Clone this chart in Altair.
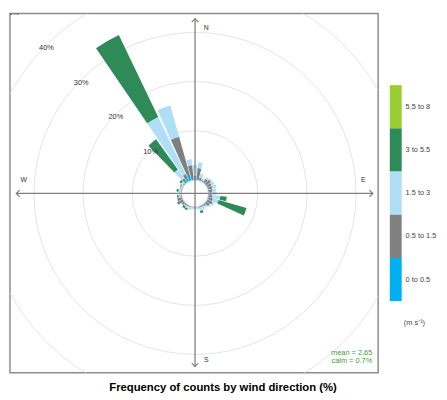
import math
import altair as alt
import pandas as pd

# ---------------- data ----------------
directions = [0, 10, 20, 30, 40, 50, 60, 70, 80, 90, 100, 110, 120, 130, 140, 150, 160, 170,
              180, 190, 200, 210, 220, 230, 240, 250, 260, 270, 280, 290, 300, 310, 320, 330, 340, 350]
speed_bands = ["0 to 0.5", "0.5 to 1.5", "1.5 to 3", "3 to 5.5", "5.5 to 8"]
band_colors = ["#00B0F0", "#808080", "#AEDFF7", "#2E8B57", "#9ACD32"]

# frequency (% of counts) per direction for each wind-speed band
freq_0_05 = [0.2, 0.2, 0.1, 0.1, 0.1, 0.1, 0.1, 0.1, 0.1, 0.1, 0.1, 0.1, 0.1, 0.1, 0.1, 0.1, 0.0, 0.0,
             0.0, 0.0, 0.0, 0.0, 0.0, 0.0, 0.0, 0.0, 0.0, 0.0, 0.0, 0.0, 0.0, 0.0, 0.3, 0.6, 1.2, 0.4]
freq_05_15 = [0.6, 2.2, 0.5, 0.2, 0.8, 1.1, 0.9, 0.8, 0.7, 0.5, 0.7, 0.9, 1.1, 0.8, 0.3, 0.2, 0.2, 0.1,
              0.1, 0.1, 0.1, 0.2, 0.3, 0.6, 1.3, 1.0, 0.2, 0.1, 0.1, 0.1, 0.1, 0.2, 0.7, 1.0, 8.0, 2.6]
freq_15_3 = [2.2, 1.2, 0.8, 0.4, 0.4, 0.3, 0.6, 0.9, 0.7, 1.0, 1.6, 1.2, 0.4, 0.3, 0.4, 0.6, 0.7, 0.4,
             0.3, 0.4, 0.6, 0.4, 0.2, 0.1, 0.1, 0.1, 0.4, 0.2, 0.5, 0.2, 0.3, 0.5, 2.2, 12.9, 6.6, 1.2]
freq_3_55 = [0.0, 0.0, 0.0, 0.0, 0.0, 0.0, 0.0, 0.0, 0.0, 0.0, 1.3, 5.9, 0.0, 0.0, 0.0, 0.0, 0.5, 0.0,
             0.0, 0.0, 0.0, 0.4, 0.4, 0.0, 0.0, 0.0, 0.3, 0.1, 0.4, 0.1, 0.2, 0.4, 7.6, 18.5, 0.0, 0.0]
freq_55_8 = [0.0, 0.0, 0.0, 0.0, 0.0, 0.0, 0.0, 0.0, 0.0, 0.0, 0.0, 0.0, 0.0, 0.0, 0.0, 0.0, 0.0, 0.0,
             0.0, 0.0, 0.0, 0.0, 0.0, 0.0, 0.0, 0.0, 0.0, 0.0, 0.0, 0.0, 0.0, 0.0, 0.0, 0.0, 0.0, 0.0]

ring_pcts = [10, 20, 30, 40, 50]
ring_labels = ["10%", "20%", "30%", "40%", "50%"]
mean_text = "mean = 2.65"
calm_text = "calm = 0.7%"
title_text = "Frequency of counts by wind direction (%)"
unit_text = "(m s\u207b\u00b9)"

# ---------------- layout / style ----------------
FONT = "Liberation Sans"
W, H = 375, 366
CX, CY = 188.5, 183.3
HALF = 4.3  # half wedge width in degrees

series = [freq_0_05, freq_05_15, freq_15_3, freq_3_55, freq_55_8]
rows = []
for i, d in enumerate(directions):
    for b, band in enumerate(speed_bands):
        rows.append({"dir": d, "band": band, "rank": b, "pct": series[b][i]})
rose_df = pd.DataFrame(rows)

theta_scale = alt.Scale(type="linear", domain=[0, 360], range=[0, 2 * math.pi], nice=False, zero=False)
r_scale = alt.Scale(type="linear", domain=[0, 50], range=[14, 264], nice=False, zero=False)

rings_df = pd.DataFrame({"pct": ring_pcts, "label": ring_labels, "ang": [315] * len(ring_pcts)})

circles = alt.Chart(rings_df).mark_arc(
    theta=0, theta2=2 * math.pi, fillOpacity=0, stroke="#DDDDDD", strokeWidth=0.8, clip=True
).encode(
    x=alt.value(CX), y=alt.value(CY),
    radius=alt.Radius("pct:Q", scale=r_scale, stack=False),
)

rose = (
    alt.Chart(rose_df)
    .transform_stack(stack="pct", groupby=["dir"], as_=["r0", "r1"],
                     sort=[alt.SortField("rank", order="ascending")])
    .transform_filter("datum.pct > 0")
    .transform_calculate(t0=f"datum.dir - {HALF}", t1=f"datum.dir + {HALF}")
    .mark_arc(strokeWidth=0)
    .encode(
        x=alt.value(CX), y=alt.value(CY),
        theta=alt.Theta("t0:Q", scale=theta_scale, stack=False),
        theta2="t1:Q",
        radius=alt.Radius("r1:Q", scale=r_scale, stack=False),
        radius2="r0:Q",
        color=alt.Color(
            "band:N",
            scale=alt.Scale(domain=speed_bands[::-1], range=band_colors[::-1]),
            legend=alt.Legend(
                orient="none", legendX=355, legendY=73, direction="vertical",
                title=None, padding=0, rowPadding=0,
                symbolType="M0.45,-1H1V1H0.45Z", symbolSize=1936,
                symbolStrokeWidth=0, symbolOpacity=1,
                labelOffset=4, labelFontSize=7.5, labelFont=FONT, labelColor="#444444",
            ),
        ),
    )
)

pct_labels = alt.Chart(rings_df).mark_text(
    fontSize=7.5, font=FONT, color="#333333", dy=3, clip=True
).encode(
    x=alt.value(CX), y=alt.value(CY),
    theta=alt.Theta("ang:Q", scale=theta_scale, stack=False),
    radius=alt.Radius("pct:Q", scale=r_scale, stack=False),
    text="label:N",
)

AXC = "#7F7F7F"
vrule = alt.Chart(rings_df.head(1)).mark_rule(color=AXC, strokeWidth=1.3).encode(
    x=alt.value(CX), y=alt.value(5), y2=alt.value(360))
hrule = alt.Chart(rings_df.head(1)).mark_rule(color=AXC, strokeWidth=1.3).encode(
    y=alt.value(CY), x=alt.value(6), x2=alt.value(370))

CHEV = "M-1,0.7L0,-0.3L1,0.7"


def arrow(x, y, ang):
    return alt.Chart(rings_df.head(1)).mark_point(
        shape=CHEV, size=45, filled=False, stroke=AXC, strokeWidth=1.2, opacity=1, angle=ang
    ).encode(x=alt.value(x), y=alt.value(y))


def label(text, x, y, size, color="#333333", align="center", weight="normal"):
    return alt.Chart(pd.DataFrame({"t": [text]})).mark_text(
        text=text, align=align, baseline="middle", fontSize=size, font=FONT,
        color=color, fontWeight=weight
    ).encode(x=alt.value(x), y=alt.value(y))


layers = [
    circles, rose, pct_labels, vrule, hrule,
    arrow(CX, 6.5, 0), arrow(CX, 358.5, 180), arrow(7.5, CY, 270), arrow(368.5, CY, 90),
    label("N", 200, 15, 7), label("S", 200, 353, 7),
    label("W", 14, 170, 7), label("E", 360, 170, 7),
    label(mean_text, 369, 346, 7.5, color="#3C9E3C", align="right"),
    label(calm_text, 369, 354, 7.5, color="#3C9E3C", align="right"),
    label(unit_text, 412, 315, 7.5, color="#444444"),
    label(title_text, 217, 381, 11.5, color="#000000", weight="bold"),
]

chart = alt.layer(*layers).properties(
    width=W, height=H, autosize="none",
    padding={"left": 2, "top": 2, "right": 62, "bottom": 20},
).configure_view(stroke="#8C8C8C", strokeWidth=1.5)

chart.save("out.html", embed_options={"renderer": "svg", "actions": False})
